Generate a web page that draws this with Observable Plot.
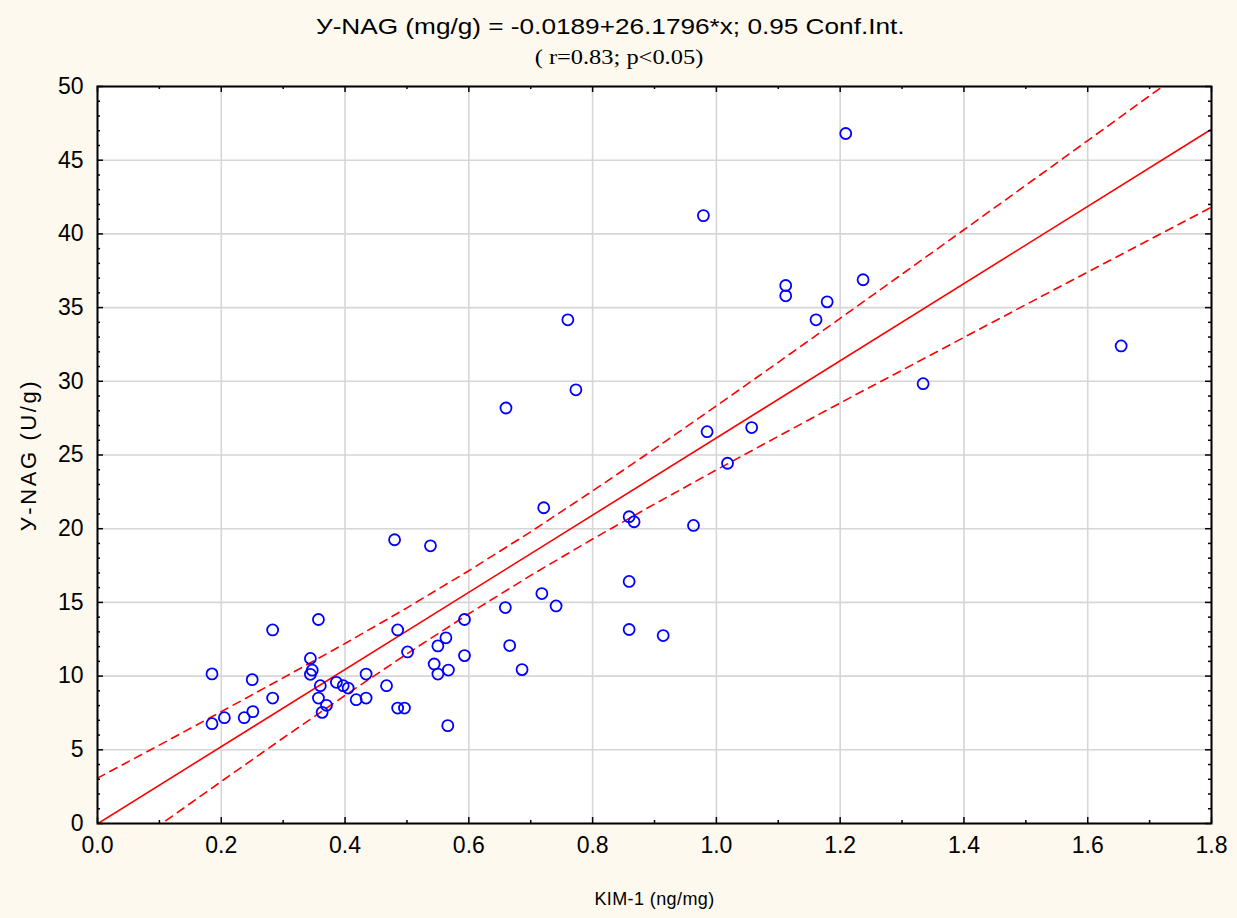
<!DOCTYPE html>
<html>
<head>
<meta charset="utf-8">
<script src="https://cdn.jsdelivr.net/npm/d3@7"></script>
<script src="https://cdn.jsdelivr.net/npm/@observablehq/plot@0.6"></script>
<style>
  html, body { margin: 0; padding: 0; background: #fdf9ee; }
  #wrap { position: relative; width: 1237px; height: 918px; background: #fdf9ee; }
  .t { position: absolute; left: 0; width: 1237px; text-align: center; color: #000; line-height: 1; }
  .t span { display: inline-block; white-space: nowrap; }
  .t1 { top: 16px; left: -8px; font-family: "Liberation Sans", Arial, sans-serif; font-size: 22px; }
  .t1 span { transform: scaleX(1.19); }
  .t2 { top: 46px; font-family: "Liberation Serif", "Times New Roman", serif; font-size: 22px; }
  .t2 span { transform: scaleX(1.11); }
  #chart { position: absolute; left: 0; top: 0; }
</style>
</head>
<body>
<div id="wrap">
  <div id="chart"></div>
  <div class="t t1"><span>У-NAG (mg/g) = -0.0189+26.1796*x; 0.95 Conf.Int.</span></div>
  <div class="t t2"><span>( r=0.83; p&lt;0.05)</span></div>
</div>
<script>
// Observed data: KIM-1 (ng/mg) vs У-NAG (U/g)
const kim = [0.185,0.185,0.205,0.237,0.251,0.250,0.283,0.283,0.344,0.347,0.344,0.357,0.360,0.357,0.370,0.363,
  0.386,0.397,0.405,0.418,0.434,0.434,0.467,0.480,0.538,0.485,0.501,0.485,0.496,0.550,0.563,0.544,0.550,0.567,
  0.593,0.593,0.566,0.721,0.859,0.867,0.963,0.859,0.859,0.914,0.718,0.741,0.659,0.666,0.686,0.985,1.057,1.018,
  1.334,1.161,1.179,1.209,0.979,1.112,1.112,1.237,1.654,0.760,0.773,0.660];
const nag = [10.15,6.77,7.18,7.18,7.59,9.76,13.13,8.51,11.20,10.40,10.12,13.84,9.35,8.51,8.02,7.54,
  9.58,9.35,9.19,8.40,8.51,10.14,9.35,19.25,18.84,13.13,11.64,7.83,7.83,12.05,12.60,10.82,10.14,10.41,
  13.84,11.39,6.64,21.42,20.81,20.47,20.22,16.42,13.16,12.75,15.60,14.76,14.65,12.07,10.44,26.58,26.86,24.44,
  29.84,34.17,35.39,46.81,41.24,36.50,35.80,36.89,32.40,34.17,29.42,28.19];

// Regression line and 0.95 confidence band
const fitX = [0, 1.8];
const fitY = [-0.02, 47.10];
const bandX = [0,0.1,0.2,0.3,0.4,0.5,0.6,0.7,0.8,0.9,1.0,1.1,1.2,1.3,1.4,1.5,1.6,1.7,1.8];
const bandUpper = [3.08,5.32,7.59,9.88,12.21,14.63,17.15,19.79,22.56,25.41,28.33,31.29,34.27,37.27,40.28,43.30,46.33,49.37,52.39];
const bandLower = [-3.12,-0.12,2.85,5.80,8.69,11.51,14.23,16.83,19.30,21.67,23.99,26.27,28.53,30.75,32.98,35.20,37.41,39.61,41.81];

// Tick labels
const xTicks = [0,0.2,0.4,0.6,0.8,1.0,1.2,1.4,1.6,1.8];
const yTicks = [0,5,10,15,20,25,30,35,40,45,50];
const xMinor = [0.1,0.3,0.5,0.7,0.9,1.1,1.3,1.5,1.7];
const yMinor = d3.range(0, 51).filter(v => v % 5 !== 0);
const xLabel = "KIM-1 (ng/mg)";
const yLabel = "У-NAG (U/g)";

const W = 1237, H = 918;
const mL = 97, mR = 26, mT = 86, mB = 95;
const pW = W - mL - mR, pH = H - mT - mB;

const points = kim.map((x, i) => ({x, y: nag[i]}));
const fit = fitX.map((x, i) => ({x, y: fitY[i]}));
const up = bandX.map((x, i) => ({x, y: bandUpper[i]}));
const lo = bandX.map((x, i) => ({x, y: bandLower[i]}));

const red = "#ff0000";
const chart = Plot.plot({
  width: W, height: H,
  marginLeft: mL, marginRight: mR, marginTop: mT, marginBottom: mB,
  style: {background: "#fdf9ee", fontFamily: "'Liberation Sans', Arial, sans-serif", fontSize: "23px", color: "#000"},
  x: {domain: [0, 1.8]},
  y: {domain: [0, 50]},
  marks: [
    Plot.frame({fill: "white", stroke: null}),
    Plot.gridX(xTicks, {stroke: "#d6d6d6", strokeOpacity: 1, strokeWidth: 1.6}),
    Plot.gridY(yTicks, {stroke: "#d6d6d6", strokeOpacity: 1, strokeWidth: 1.6}),
    Plot.line(up, {x: "x", y: "y", stroke: red, strokeWidth: 1.6, strokeDasharray: "8,6", clip: true}),
    Plot.line(lo, {x: "x", y: "y", stroke: red, strokeWidth: 1.6, strokeDasharray: "8,6", clip: true}),
    Plot.line(fit, {x: "x", y: "y", stroke: red, strokeWidth: 1.6, clip: true}),
    Plot.dot(points, {x: "x", y: "y", r: 5.5, stroke: "#0000ff", strokeWidth: 1.8, fill: "none"}),
    // inward ticks
    Plot.tickY(yTicks, {y: d => d, insetRight: pW - 6, stroke: "black", strokeWidth: 1.5}),
    Plot.tickY(yMinor, {y: d => d, insetRight: pW - 3, stroke: "black", strokeWidth: 1.5}),
    Plot.tickY(yTicks, {y: d => d, insetLeft: pW - 6, stroke: "black", strokeWidth: 1.5}),
    Plot.tickY(yMinor, {y: d => d, insetLeft: pW - 3, stroke: "black", strokeWidth: 1.5}),
    Plot.tickX(xTicks, {x: d => d, insetTop: pH - 6, stroke: "black", strokeWidth: 1.5}),
    Plot.tickX(xMinor, {x: d => d, insetTop: pH - 3, stroke: "black", strokeWidth: 1.5}),
    Plot.tickX(xTicks, {x: d => d, insetBottom: pH - 6, stroke: "black", strokeWidth: 1.5}),
    Plot.tickX(xMinor, {x: d => d, insetBottom: pH - 3, stroke: "black", strokeWidth: 1.5}),
    Plot.frame({stroke: "black", strokeWidth: 2}),
    Plot.axisX(xTicks, {tickSize: 0, tickPadding: 13, tickFormat: d3.format(".1f"), fontSize: 23, label: null}),
    Plot.axisY(yTicks, {tickSize: 0, tickPadding: 14, fontSize: 23, label: null}),
    Plot.text([xLabel], {frameAnchor: "bottom", dy: 81, fontSize: 18, textAnchor: "middle", text: d => d}),
    Plot.text([yLabel], {frameAnchor: "left", dx: -69, rotate: -90, fontSize: 22, textAnchor: "middle", lineAnchor: "middle", text: d => d})
  ]
});
d3.select(chart).selectAll("text").filter(function() { return this.textContent === yLabel; })
  .style("letter-spacing", "2.6px");
d3.select(chart).selectAll("text").filter(function() { return this.textContent === xLabel; })
  .style("letter-spacing", "0.4px");
document.getElementById("chart").appendChild(chart);
</script>
</body>
</html>
